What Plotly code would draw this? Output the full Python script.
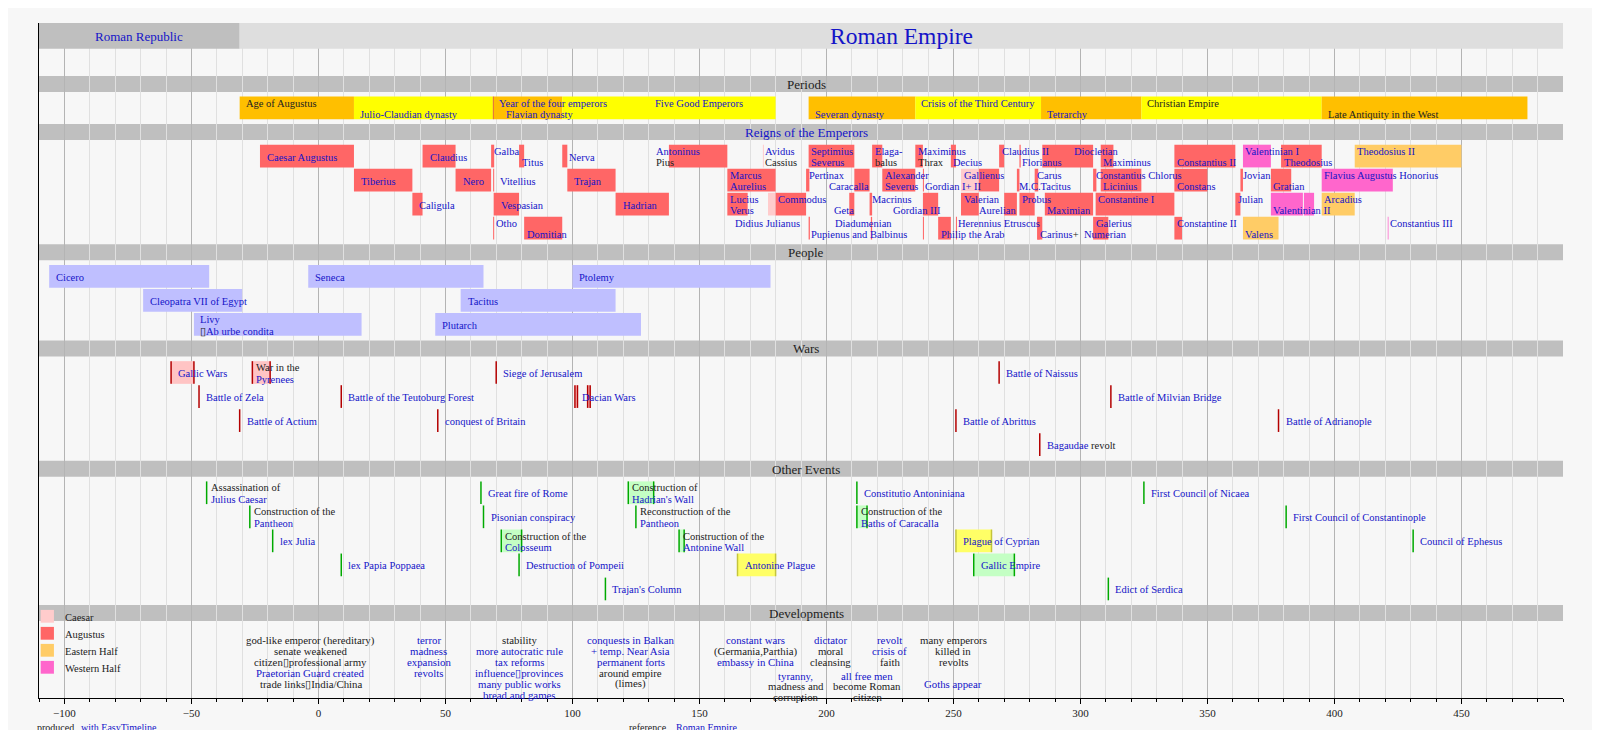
import re
import plotly.graph_objects as go

# ---- data (years; labels use [[...]] for linked/blue text, "~" for a line break) ----
X_RANGE = [-110, 490]

ERA_NAMES = ["[[Roman Republic]]", "[[Roman Empire]]"]
ERA_FROM = [-509, -31]
ERA_TILL = [-31, 1453]

SECTION_NAMES = ["Periods", "[[Reigns of the Emperors]]", "People", "Wars", "Other Events", "Developments"]
SECTION_ROWS = [1, 4, 3, 4, 5, 0]

# label, from, till
PERIODS = [
    ("Age of Augustus~", -31, 14),
    ("~[[Julio-Claudian dynasty]]", 14, 68.7),
    ("[[Year of the four emperors]]~", 68.7, 69),
    ("~[[Flavian dynasty]]", 69, 96),
    ("[[Five Good Emperors]]~", 96, 180),
    ("~[[Severan dynasty]]", 193, 235),
    ("[[Crisis of the Third Century]]~", 235, 284.5),
    ("~[[Tetrarchy]]", 284.5, 324),
    ("Christian Empire~", 324, 395),
    ("~Late Antiquity in the West", 395, 476),
]

RANKS = ["Caesar", "Augustus", "Eastern Half", "Western Half"]

# label, from, till, row, rank
EMPERORS = [
    ("[[Caesar Augustus]]", -23, 14, 1, "Augustus"),
    ("[[Claudius]]", 41, 54, 1, "Augustus"),
    ("[[Galba]]~", 68, 69.2, 1, "Augustus"),
    ("~[[Titus]]", 79, 81, 1, "Augustus"),
    ("[[Nerva]]", 96, 98, 1, "Augustus"),
    ("[[Antoninus]]~Pius", 138, 161, 1, "Augustus"),
    ("[[Avidus]]~Cassius", 175, 175.4, 1, "Caesar"),
    ("[[Septimius]]~[[Severus]]", 193, 211, 1, "Augustus"),
    ("[[Elaga-]]~balus", 218, 222, 1, "Augustus"),
    ("[[Maximinus]]~Thrax", 235, 238, 1, "Augustus"),
    ("~[[Decius]]", 249, 251, 1, "Augustus"),
    ("[[Claudius II]]~", 268, 270, 1, "Augustus"),
    ("~[[Florianus]]", 276, 276.5, 1, "Augustus"),
    ("[[Diocletian]]~", 285, 305, 1, "Augustus"),
    ("~[[Maximinus]]", 308, 313, 1, "Augustus"),
    ("~[[Constantius II]]", 337, 361, 1, "Augustus"),
    ("[[Valentinian I]]~", 364, 375, 1, "Western Half"),
    ("~[[Theodosius]]", 379, 395, 1, "Augustus"),
    ("[[Theodosius II]]~", 408, 450, 1, "Eastern Half"),
    ("[[Tiberius]]", 14, 37, 2, "Augustus"),
    ("[[Nero]]", 54, 68, 2, "Augustus"),
    ("[[Vitellius]]", 68.8, 69.2, 2, "Augustus"),
    ("[[Trajan]]", 98, 117, 2, "Augustus"),
    ("[[Marcus]]~[[Aurelius]]", 161, 180, 2, "Augustus"),
    ("[[Pertinax]]~", 192, 193.3, 2, "Augustus"),
    ("~[[Caracalla]]", 211, 217, 2, "Augustus"),
    ("[[Alexander]]~[[Severus]]", 222, 235, 2, "Augustus"),
    ("~[[Gordian I+ II]]", 238, 238.4, 2, "Augustus"),
    ("[[Gallienus]]~", 253, 260, 2, "Caesar"),
    ("", 260, 268, 2, "Augustus"),
    ("~[[M.C.Tacitus]]", 275, 276, 2, "Augustus"),
    ("[[Carus]]~", 282, 283.4, 2, "Augustus"),
    ("[[Constantius Chlorus]]~", 305, 306.3, 2, "Augustus"),
    ("~[[Licinius]]", 308, 324, 2, "Augustus"),
    ("~[[Constans]]", 337, 350, 2, "Augustus"),
    ("[[Jovian]]~", 363, 364, 2, "Augustus"),
    ("~[[Gratian]]", 375, 383, 2, "Augustus"),
    ("[[Flavius Augustus Honorius]]~", 395, 423, 2, "Western Half"),
    ("[[Caligula]]", 37, 41, 3, "Augustus"),
    ("[[Vespasian]]", 69, 79, 3, "Augustus"),
    ("[[Hadrian]]", 117, 138, 3, "Augustus"),
    ("[[Lucius]]~[[Verus]]", 161, 169, 3, "Augustus"),
    ("", 177, 180, 3, "Caesar"),
    ("[[Commodus]]~", 180, 192, 3, "Augustus"),
    ("~[[Geta]]", 209, 211, 3, "Augustus"),
    ("[[Macrinus]]~", 217, 218, 3, "Augustus"),
    ("~[[Gordian III]]", 238, 244, 3, "Augustus"),
    ("[[Valerian]]~", 253, 260, 3, "Augustus"),
    ("~[[Aurelian]]", 270, 275, 3, "Augustus"),
    ("[[Probus]]~", 276, 282, 3, "Augustus"),
    ("~[[Maximian]]", 286, 305, 3, "Augustus"),
    ("[[Constantine I]]~", 306, 337, 3, "Augustus"),
    ("[[Julian]]~", 361, 363, 3, "Augustus"),
    ("~[[Valentinian II]]", 375, 387.6, 3, "Western Half"),
    ("", 388, 392, 3, "Western Half"),
    ("[[Arcadius]]~", 395, 408, 3, "Eastern Half"),
    ("[[Otho]]~", 68.8, 69.2, 4, "Augustus"),
    ("~[[Domitian]]", 81, 96, 4, "Augustus"),
    ("[[Didius Julianus]]~", 193, 193.5, 4, "Augustus"),
    ("[[Diadumenian]]~", 217.5, 218, 4, "Augustus"),
    ("~[[Pupienus and Balbinus]]", 238, 238.4, 4, "Augustus"),
    ("~[[Philip the Arab]]", 244, 249, 4, "Augustus"),
    ("[[Herennius Etruscus]]~", 251, 251.4, 4, "Augustus"),
    ("~[[Carinus]]+", 283, 285, 4, "Augustus"),
    ("~[[Numerian]]", 283, 284, 4, "Augustus"),
    ("[[Galerius]]~", 305, 311, 4, "Augustus"),
    ("[[Constantine II]]~", 337, 340, 4, "Augustus"),
    ("~[[Valens]]", 364, 378, 4, "Eastern Half"),
    ("[[Constantius III]]~", 421, 421.3, 4, "Western Half"),
]

# label, from, till, row
PEOPLE = [
    ("[[Cicero]]", -106, -43, 1),
    ("[[Seneca]]", -4, 65, 1),
    ("[[Ptolemy]]", 100, 178, 1),
    ("[[Cleopatra VII of Egypt]]", -69, -30, 2),
    ("[[Tacitus]]", 56, 117, 2),
    ("[[Livy]]~\u25af[[Ab urbe condita]]", -49, 17, 3),
    ("[[Plutarch]]", 46, 127, 3),
]

# label, from, till, row  (from == till: a single event)
WARS = [
    ("[[Gallic Wars]]", -58, -49, 1),
    ("War in the~[[Pyrenees]]", -26, -19, 1),
    ("[[Siege of Jerusalem]]", 70, 70, 1),
    ("[[Battle of Naissus]]", 268, 268, 1),
    ("[[Battle of Zela]]", -47, -47, 2),
    ("[[Battle of the Teutoburg Forest]]", 9, 9, 2),
    ("[[Dacian Wars]]", 101, 102, 2),
    ("", 106, 107, 2),
    ("[[Battle of Milvian Bridge]]", 312, 312, 2),
    ("[[Battle of Actium]]", -31, -31, 3),
    ("[[conquest of Britain]]", 47, 47, 3),
    ("[[Battle of Abrittus]]", 251, 251, 3),
    ("[[Battle of Adrianople]]", 378, 378, 3),
    ("[[Bagaudae]] revolt", 284, 284, 4),
]

# label, from, till, row, kind
EVENTS = [
    ("Assassination of~[[Julius Caesar]]", -44, -44, 1, "event"),
    ("[[Great fire of Rome]]", 64, 64, 1, "event"),
    ("Construction of~[[Hadrian's Wall]]", 122, 132, 1, "building"),
    ("[[Constitutio Antoniniana]]", 212, 212, 1, "event"),
    ("[[First Council of Nicaea]]", 325, 325, 1, "event"),
    ("Construction of the~[[Pantheon]]", -27, -27, 2, "event"),
    ("[[Pisonian conspiracy]]", 65, 65, 2, "event"),
    ("Reconstruction of the~[[Pantheon]]", 125, 125, 2, "event"),
    ("Construction of the~[[Baths of Caracalla]]", 212, 216, 2, "building"),
    ("[[First Council of Constantinople]]", 381, 381, 2, "event"),
    ("[[lex Julia]]", -18, -18, 3, "event"),
    ("Construction of the~[[Colosseum]]", 72, 80, 3, "building"),
    ("Construction of the~[[Antonine Wall]]", 142, 144, 3, "building"),
    ("[[Plague of Cyprian]]", 251, 265, 3, "plague"),
    ("[[Council of Ephesus]]", 431, 431, 3, "event"),
    ("[[lex Papia Poppaea]]", 9, 9, 4, "event"),
    ("[[Destruction of Pompeii]]", 79, 79, 4, "event"),
    ("[[Antonine Plague]]", 165, 180, 4, "plague"),
    ("[[Gallic Empire]]", 258, 274, 4, "building"),
    ("[[Trajan's Column]]", 113, 113, 5, "event"),
    ("[[Edict of Serdica]]", 311, 311, 5, "event"),
]

DEV_AT = [-3, 43.5, 79, 123, 172, 188, 201.5, 216, 225, 250]
DEV_LINES = [
    ["god-like emperor (hereditary)", "senate weakened", "citizen\u25afprofessional army",
     "[[Praetorian Guard created]]", "trade links\u25afIndia/China"],
    ["[[terror]]", "[[madness]]", "[[expansion]]", "[[revolts]]"],
    ["stability", "[[more autocratic rule]]", "[[tax reforms]]", "[[influence\u25afprovinces]]",
     "[[many public works]]", "[[bread and games]]"],
    ["[[conquests in Balkan]]", "[[+ temp. Near Asia]]", "[[permanent forts]]", "around empire", "(limes)"],
    ["[[constant wars]]", "(Germania,Parthia)", "[[embassy in China]]"],
    ["[[tyranny,]]", "madness and", "corruption"],
    ["[[dictator]]", "moral", "cleansing"],
    ["[[all free men]]", "become Roman", "citizen"],
    ["[[revolt]]", "[[crisis of]]", "faith"],
    ["many emperors", "killed in", "revolts", "", "[[Goths appear]]"],
]

# ---- styling / layout ----
BLUE = "#1414c8"
INK = "#222222"
FONT = "Liberation Serif"
BG = "#f7f7f7"
ERA_FILL = ["#bfbfbf", "#dedede"]
ERA_SIZE = [13, 23.5]
BAND = "#bfbfbf"
PERIOD_TONE = ["#ffbf00", "#ffff00", "#cc0000", "#ffbf00", "#ffff00",
               "#ffbf00", "#ffff00", "#ffbf00", "#ffff00", "#ffbf00"]
RANK_FILL = {"Caesar": "#ffcccc", "Augustus": "#ff6666", "Eastern Half": "#ffcc66", "Western Half": "#ff66cc"}
PEOPLE_FILL = "#bfbfff"
WAR_FILL, WAR_LINE = "#ffc4c4", "#b40000"
EVENT_FILL = {"building": "#c4ffc4", "plague": "#ffff66"}
EVENT_LINE = {"event": "#00aa00", "building": "#00aa00", "plague": "#c4c43c"}
DEV_FIRST = [0, 0, 0, 0, 0, 3.25, 0, 3.25, 0, 0]
# text nudges in pixels, relative to the start of a bar
NUDGE = {
    "[[Antoninus]]~Pius": -15, "[[Diocletian]]~": 30, "~[[Caracalla]]": -27, "~[[Geta]]": -17,
    "~[[Gordian III]]": -32, "~[[Aurelian]]": -27, "[[Didius Julianus]]~": -76,
    "[[Diadumenian]]~": -38, "~[[Pupienus and Balbinus]]": -114, "~[[Numerian]]": 45,
    "[[Five Good Emperors]]~": 91, "~[[Flavian dynasty]]": 10,
}

PX_TOP, PITCH = 27.8, 24.05   # slot 0 centre (px) and slot pitch (px)


def slot(px):
    return (px - PX_TOP) / PITCH


def rich(s):
    return re.sub(r"\[\[(.+?)\]\]", lambda m: f"<span style='color:{BLUE}'>{m.group(1)}</span>", s)


shapes, notes = [], []
BAR_HALF = 0.472
HEAD_HALF = 0.333


def clip(a, b):
    return max(a, X_RANGE[0]), min(b, X_RANGE[1])


def rect(x0, x1, yc, half, fill, xref="x"):
    shapes.append(dict(type="rect", xref=xref, yref="y", x0=x0, x1=x1, y0=yc - half, y1=yc + half,
                       fillcolor=fill, line=dict(width=0), layer="between"))


def vline(x, yc, color):
    shapes.append(dict(type="line", xref="x", yref="y", x0=x, x1=x, y0=yc - BAR_HALF, y1=yc + BAR_HALF,
                       line=dict(color=color, width=1.5), layer="between"))


def text(s, x, y, xshift=0, size=10.5, xanchor="left", xref="x", yref="y", color=INK):
    notes.append(dict(x=x, y=y, xref=xref, yref=yref, text=rich(s), showarrow=False, xanchor=xanchor,
                      yanchor="middle", xshift=xshift, font=dict(size=size, color=color, family=FONT)))


def label(s, x, yc, mid_shift=5, two_shift=2):
    if not s:
        return
    if "~" in s:
        top, bottom = s.split("~", 1)
        parts, dx = [(top, -0.2), (bottom, 0.28)], two_shift
    else:
        parts, dx = [(s, 0.04)], mid_shift
    dx = NUDGE.get(s, dx)
    for t, dy in parts:
        if t:
            text(t, x, yc + dy, xshift=dx)


# section slots
heads, s = [], 2
for n in SECTION_ROWS:
    heads.append(s)
    s += n + 1

# era band
for name, a, b, fill, size in zip(ERA_NAMES, ERA_FROM, ERA_TILL, ERA_FILL, ERA_SIZE):
    a, b = clip(a, b)
    rect(a, b, 0, 0.534, fill)
    text(name, (a + b) / 2, 0.02, size=size, xanchor="center")

# section header bands
for name, h in zip(SECTION_NAMES, heads):
    rect(0, 1, h, HEAD_HALF, BAND, xref="paper")
    text(name, 0.5035, h + 0.02, size=13, xanchor="center", xref="paper")

# periods
yc = heads[0] + 1
for (name, a, b), tone in zip(PERIODS, PERIOD_TONE):
    rect(a, b, yc, BAR_HALF, tone)
for name, a, b in PERIODS:
    label(name, a, yc, two_shift=4)

# emperors
for name, a, b, row, rank in EMPERORS:
    rect(a, b, heads[1] + row, BAR_HALF, RANK_FILL[rank])
for name, a, b, row, rank in EMPERORS:
    label(name, a, heads[1] + row, two_shift=0.5)

# people
for name, a, b, row in PEOPLE:
    a, b = clip(a, b)
    rect(a, b, heads[2] + row, BAR_HALF, PEOPLE_FILL)
    label(name, a, heads[2] + row, two_shift=4)

# wars
for name, a, b, row in WARS:
    yc = heads[3] + row
    if b > a:
        rect(a, b, yc, BAR_HALF, WAR_FILL)
        vline(b, yc, WAR_LINE)
    vline(a, yc, WAR_LINE)
    label(name, a, yc)

# other events
for name, a, b, row, kind in EVENTS:
    yc = heads[4] + row
    if b > a:
        rect(a, b, yc, BAR_HALF, EVENT_FILL[kind])
        vline(b, yc, EVENT_LINE[kind])
    vline(a, yc, EVENT_LINE[kind])
    label(name, a, yc)

# developments
for at, lines, first in zip(DEV_AT, DEV_LINES, DEV_FIRST):
    for i, ln in enumerate(lines):
        if ln:
            text(ln, at, slot(632.3) + (first + i) * 0.451, size=10.8, xanchor="center")

# legend
for i, rank in enumerate(RANKS):
    yc = slot(608.3 + 17 * i)
    rect(0.0011, 0.0098, yc, slot(614.7) - slot(608.3), RANK_FILL[rank], xref="paper")
    text(rank, 0.0157, yc + 0.05, xref="paper")

# footer
FOOT_Y = -0.043
text("produced", -0.0025, FOOT_Y, size=10, xref="paper", yref="paper")
text("[[with EasyTimeline]]", 0.026, FOOT_Y, size=10, xref="paper", yref="paper")
text("reference", 0.3855, FOOT_Y, size=10, xref="paper", yref="paper")
text("[[Roman Empire]]", 0.4167, FOOT_Y, size=10, xref="paper", yref="paper")

fig = go.Figure()
fig.update_layout(
    width=1600, height=730,
    margin=dict(l=31, r=45, t=15, b=40),
    paper_bgcolor=BG, plot_bgcolor=BG,
    font=dict(family=FONT, color=INK, size=11),
    showlegend=False,
    shapes=shapes, annotations=notes,
    xaxis=dict(range=X_RANGE, tick0=0, dtick=50, showgrid=True, gridcolor="#b4b4b4", gridwidth=1,
               ticks="outside", ticklen=5, tickcolor="black", showline=True, linecolor="black",
               linewidth=1, zeroline=False, tickfont=dict(size=11, color=INK),
               minor=dict(tick0=0, dtick=10, showgrid=True, gridcolor="#e0e0e0", ticks="outside",
                          ticklen=3, tickcolor="black")),
    yaxis=dict(range=[slot(690), slot(15)], showgrid=False, zeroline=False, showticklabels=False,
               ticks="", showline=True, linecolor="black", linewidth=1),
)
fig.write_html("out.html")
